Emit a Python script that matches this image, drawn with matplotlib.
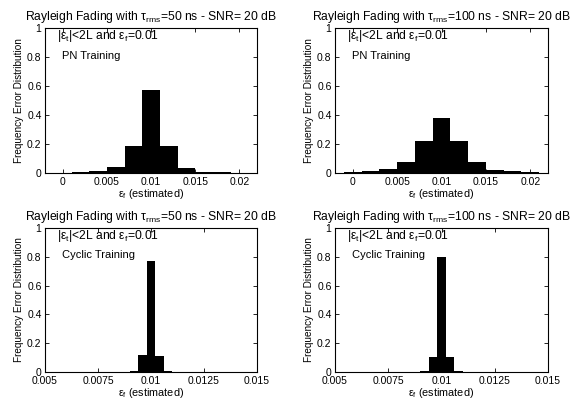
import matplotlib
matplotlib.use("Agg")
import matplotlib.pyplot as plt

plt.rcParams["font.family"] = ["Liberation Sans", "DejaVu Sans"]
plt.rcParams["mathtext.fontset"] = "custom"
plt.rcParams["mathtext.rm"] = "Liberation Sans"
plt.rcParams["mathtext.it"] = "Liberation Sans"

# PN training: bin centers and relative frequencies
pn_centers = [0.000, 0.002, 0.004, 0.006, 0.008, 0.010, 0.012, 0.014, 0.016, 0.018, 0.020]
pn_50 = [0.003, 0.005, 0.011, 0.038, 0.185, 0.57, 0.185, 0.037, 0.010, 0.005, 0.002]
pn_100 = [0.006, 0.014, 0.025, 0.075, 0.22, 0.38, 0.22, 0.078, 0.022, 0.012, 0.006]

# cyclic training
cyc_centers_50 = [0.0088, 0.0092, 0.0096, 0.0100, 0.0104, 0.0108, 0.0112, 0.0116, 0.0120]
cyc_50 = [0.003, 0.004, 0.118, 0.773, 0.112, 0.008, 0.003, 0.003, 0.002]
cyc_centers_100 = [0.0092, 0.0096, 0.0100, 0.0104, 0.0108, 0.0112]
cyc_100 = [0.005, 0.105, 0.797, 0.105, 0.005, 0.002]

pn_width = 0.002
cyc_width = 0.0004

pn_ticks = [0, 0.005, 0.01, 0.015, 0.02]
pn_ticklabels = ["0", "0.005", "0.01", "0.015", "0.02"]
cyc_ticks = [0.005, 0.0075, 0.01, 0.0125, 0.015]
cyc_ticklabels = ["0.005", "0.0075", "0.01", "0.0125", "0.015"]
y_ticks = [0, 0.2, 0.4, 0.6, 0.8, 1]
y_ticklabels = ["0", "0.2", "0.4", "0.6", "0.8", "1"]

panels = [
    # (rect, centers, values, width, xlim, ticks, labels, tau, training)
    ([0.0768, 0.5664, 0.3618, 0.3634], pn_centers, pn_50, pn_width,
     (-0.002, 0.022), pn_ticks, pn_ticklabels, "50", "PN Training"),
    ([0.5717, 0.5664, 0.3635, 0.3634], pn_centers, pn_100, pn_width,
     (-0.002, 0.022), pn_ticks, pn_ticklabels, "100", "PN Training"),
    ([0.0768, 0.0677, 0.3618, 0.3609], cyc_centers_50, cyc_50, cyc_width,
     (0.005, 0.015), cyc_ticks, cyc_ticklabels, "50", "Cyclic Training"),
    ([0.5717, 0.0677, 0.3635, 0.3609], cyc_centers_100, cyc_100, cyc_width,
     (0.005, 0.015), cyc_ticks, cyc_ticklabels, "100", "Cyclic Training"),
]

fig = plt.figure(figsize=(5.86, 3.99), dpi=100)

for rect, centers, vals, w, xlim, ticks, labels, tau, training in panels:
    ax = fig.add_axes(rect)
    ax.bar(centers, vals, width=w, color="black", linewidth=0)
    ax.set_xlim(*xlim)
    ax.set_ylim(0, 1)
    ax.set_xticks(ticks)
    ax.set_xticklabels(labels)
    ax.set_yticks(y_ticks)
    ax.set_yticklabels(y_ticklabels)
    ax.tick_params(direction="in", top=True, right=True, length=3,
                   width=0.6, labelsize=7.5)
    ax.tick_params(axis="x", pad=3.2)
    ax.tick_params(axis="y", pad=2.5)
    for sp in ax.spines.values():
        sp.set_linewidth(0.8)
    ax.set_title(r"Rayleigh Fading with $\tau_{\rm rms}$=" + tau + " ns - SNR= 20 dB",
                 fontsize=8.7, pad=6)
    ax.set_xlabel(r"$\epsilon_f$ (estimated)", fontsize=7.8, labelpad=-0.5)
    ax.set_ylabel("Frequency Error Distribution", fontsize=7.2, labelpad=2)
    ax.text(0.055, 0.945, r"$|\epsilon_t|$<2L and $\epsilon_f$=0.01",
            transform=ax.transAxes, fontsize=8.7, va="center", ha="left")
    ax.text(0.08, 0.81, training, transform=ax.transAxes,
            fontsize=8, va="center", ha="left")

fig.savefig("out.png", dpi=100)
